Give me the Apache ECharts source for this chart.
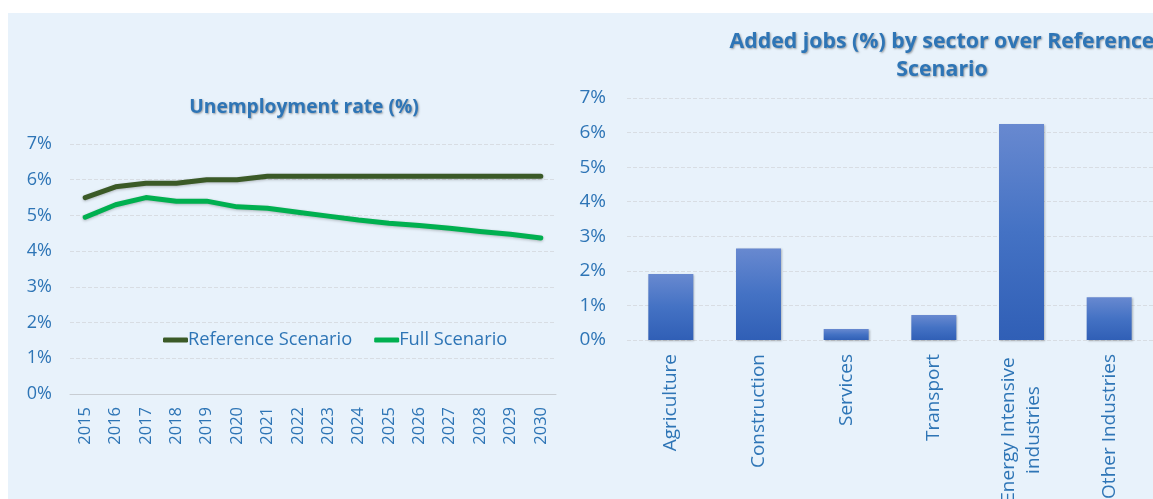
<!DOCTYPE html>
<html>
<head>
<meta charset="utf-8">
<script src="https://cdn.jsdelivr.net/npm/echarts@6/dist/echarts.min.js"></script>
<style>
html,body{margin:0;padding:0;background:#ffffff;}
#c{width:1153px;height:499px;}
</style>
</head>
<body>
<div id="c"></div>
<script>
const years = ['2015','2016','2017','2018','2019','2020','2021','2022','2023','2024','2025','2026','2027','2028','2029','2030'];
const referenceScenario = [5.5, 5.8, 5.9, 5.9, 6.0, 6.0, 6.1, 6.1, 6.1, 6.1, 6.1, 6.1, 6.1, 6.1, 6.1, 6.1];
const fullScenario = [4.95, 5.3, 5.5, 5.4, 5.4, 5.24, 5.2, 5.09, 4.98, 4.87, 4.78, 4.72, 4.64, 4.55, 4.47, 4.37];
const sectors = ['Agriculture', 'Construction', 'Services', 'Transport', 'Energy Intensive\nindustries', 'Other Industries'];
const addedJobs = [1.91, 2.65, 0.32, 0.72, 6.25, 1.24];

const txt = '#2e75b6';
const font = 'Open Sans';
const chart = echarts.init(document.getElementById('c'));
function titleStyle(size) {
  return {
    color: txt, fontFamily: font, fontWeight: 'bold', fontSize: size,
    textShadowColor: 'rgba(0,0,0,0.35)', textShadowBlur: 2, textShadowOffsetX: 1, textShadowOffsetY: 1,
    lineHeight: 28
  };
}
chart.setOption({
  animation: false,
  graphic: [{
    type: 'rect', left: 8, top: 13, z: -10,
    shape: {width: 1145, height: 486},
    style: {fill: '#e8f2fb'}
  }],
  title: [
    {text: 'Unemployment rate (%)', left: 299, top: 89, textAlign: 'center', textStyle: titleStyle(19.2)},
    {text: 'Added jobs (%) by sector over Reference\nScenario', left: 937, top: 23, textAlign: 'center', textStyle: titleStyle(21.3)}
  ],
  legend: {
    left: 158, top: 326, itemWidth: 25, itemHeight: 5, itemGap: 22, icon: 'roundRect',
    data: ['Reference Scenario', 'Full Scenario'],
    textStyle: {color: txt, fontFamily: font, fontSize: 18.3, padding: [0,0,0,-5]}
  },
  grid: [
    {left: 70, top: 144, width: 486, height: 250, containLabel: false, outerBoundsMode: 'none'},
    {left: 627, top: 98, width: 526, height: 242, containLabel: false, outerBoundsMode: 'none'}
  ],
  xAxis: [
    {type: 'category', gridIndex: 0, data: years, boundaryGap: true,
     axisLine: {lineStyle: {color: '#c8cdd3', width: 1}}, axisTick: {show: false},
     axisLabel: {rotate: 90, margin: 13, color: txt, fontFamily: font, fontSize: 16.5}},
    {type: 'category', gridIndex: 1, data: sectors,
     axisLine: {show: false}, axisTick: {show: false},
     axisLabel: {rotate: 90, margin: 14, color: txt, fontFamily: font, fontSize: 19, lineHeight: 25, align: 'right',
       formatter: function (v) {
         if (v.indexOf('\n') >= 0) {
           return v.split('\n').map(function (s) { return '{c|' + s + '}'; }).join('\n');
         }
         return v;
       },
       rich: {c: {width: 152, align: 'center', color: txt, fontFamily: font, fontSize: 19, lineHeight: 25}}
     }}
  ],
  yAxis: [
    {type: 'value', gridIndex: 0, min: 0, max: 7, interval: 1,
     axisLabel: {formatter: '{value}%', margin: 18, color: txt, fontFamily: font, fontSize: 18},
     splitLine: {lineStyle: {color: '#d8dde3', type: 'dashed', width: 1}}},
    {type: 'value', gridIndex: 1, min: 0, max: 7, interval: 1,
     axisLabel: {formatter: '{value}%', margin: 21, color: txt, fontFamily: font, fontSize: 19},
     splitLine: {lineStyle: {color: '#d8dde3', type: 'dashed', width: 1}}}
  ],
  series: [
    {name: 'Reference Scenario', type: 'line', xAxisIndex: 0, yAxisIndex: 0, data: referenceScenario,
     showSymbol: false, symbol: 'none', color: '#3b5a27',
     lineStyle: {width: 5, color: '#3b5a27', cap: 'round', join: 'round', shadowColor: 'rgba(0,0,0,0.25)', shadowBlur: 3, shadowOffsetY: 1}},
    {name: 'Full Scenario', type: 'line', xAxisIndex: 0, yAxisIndex: 0, data: fullScenario,
     showSymbol: false, symbol: 'none', color: '#00b050',
     lineStyle: {width: 5, color: '#00b050', cap: 'round', join: 'round', shadowColor: 'rgba(0,0,0,0.25)', shadowBlur: 3, shadowOffsetY: 1}},
    {name: 'Added jobs', type: 'bar', xAxisIndex: 1, yAxisIndex: 1, data: addedJobs, barWidth: 45,
     itemStyle: {
       color: new echarts.graphic.LinearGradient(0, 0, 0, 1, [
         {offset: 0, color: '#6889d0'}, {offset: 0.5, color: '#4472c4'}, {offset: 1, color: '#305fb6'}
       ]),
       shadowColor: 'rgba(0,0,0,0.25)', shadowBlur: 2, shadowOffsetX: 1, shadowOffsetY: 1
     }}
  ]
});
</script>
</body>
</html>
